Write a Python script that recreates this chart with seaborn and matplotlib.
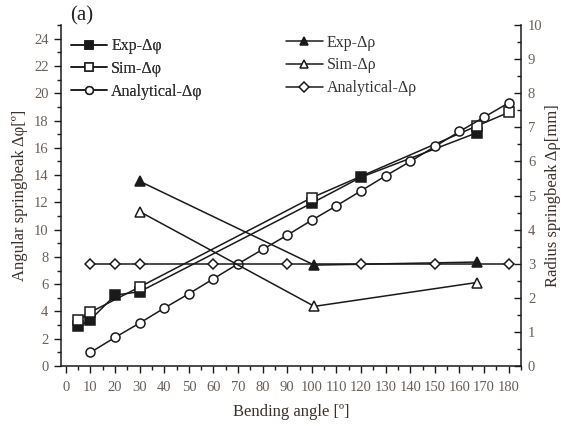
import numpy as np
import pandas as pd
import matplotlib
matplotlib.use("Agg")
import matplotlib.pyplot as plt
from matplotlib.ticker import MultipleLocator
import seaborn as sns

# ---- data ----
exp_phi_x = [5, 10, 20, 30, 100, 120, 167]
exp_phi_y = [2.9, 3.4, 5.2, 5.45, 11.95, 13.85, 17.1]
sim_phi_x = [5, 10, 30, 100, 167, 180]
sim_phi_y = [3.35, 3.95, 5.8, 12.35, 17.6, 18.6]
ana_phi_x = [10, 20, 30, 40, 50, 60, 70, 80, 90, 100, 110, 120, 130, 140, 150, 160, 170, 180]
ana_phi_y = [1.0, 2.1, 3.15, 4.25, 5.3, 6.4, 7.5, 8.55, 9.6, 10.7, 11.75, 12.85, 13.95, 15.0, 16.1, 17.2, 18.25, 19.3]
exp_rho_x = [30, 101, 167]
exp_rho_y = [5.42, 2.96, 3.05]
sim_rho_x = [30, 101, 167]
sim_rho_y = [4.53, 1.75, 2.45]
ana_rho_x = [10, 20, 30, 60, 90, 120, 150, 180]
ana_rho_y = [3.0, 3.0, 3.0, 3.0, 3.0, 3.0, 3.0, 3.0]

x_ticks = list(range(0, 181, 10))
left_ticks = list(range(0, 25, 2))
right_ticks = list(range(0, 11, 1))

sns.set_theme(style="ticks")
plt.rcParams['font.family'] = ['Liberation Serif', 'DejaVu Serif']
plt.rcParams['mathtext.fontset'] = 'stix'

tick_col = '#6a5f58'
lab_col = '#3b302a'
lc = '#1a1a1a'

fig = plt.figure(figsize=(5.62, 4.26), dpi=100)
ax = fig.add_axes([0.1085, 0.1408, 0.8185, 0.8002])
ax2 = ax.twinx()

common = dict(color=lc, linewidth=1.1, markersize=6.5, markeredgewidth=1.1,
              markeredgecolor=lc, legend=False)

def draw(a, xs, ys, marker, face, label):
    df = pd.DataFrame({'x': xs, 'y': ys})
    sns.lineplot(data=df, x='x', y='y', ax=a, marker=marker,
                 markerfacecolor=face, label=label, sort=False, **common)

draw(ax, exp_phi_x, exp_phi_y, 's', lc, 'Exp-Δφ')
draw(ax, sim_phi_x, sim_phi_y, 's', 'white', 'Sim-Δφ')
draw(ax, ana_phi_x, ana_phi_y, 'o', 'white', 'Analytical-Δφ')
draw(ax2, exp_rho_x, exp_rho_y, '^', lc, 'Exp-Δρ')
draw(ax2, sim_rho_x, sim_rho_y, '^', 'white', 'Sim-Δρ')
draw(ax2, ana_rho_x, ana_rho_y, 'D', 'white', 'Analytical-Δρ')
for ln in ax2.lines[-1:]:
    ln.set_markersize(5.5)

ax.set_xlim(-2, 185)
ax.set_ylim(0, 25)
ax2.set_ylim(0, 10)

ax.set_xticks(x_ticks)
ax.set_xticklabels([str(t) for t in x_ticks])
ax.xaxis.set_minor_locator(MultipleLocator(5))
ax.set_yticks(left_ticks)
ax.set_yticklabels([str(t) for t in left_ticks])
ax.yaxis.set_minor_locator(MultipleLocator(1))
ax2.set_yticks(right_ticks)
ax2.set_yticklabels([str(t) for t in right_ticks])
ax2.yaxis.set_minor_locator(MultipleLocator(0.5))

for a in (ax, ax2):
    a.spines['top'].set_visible(False)
    for s in a.spines.values():
        s.set_color(lc)
        s.set_linewidth(1.1)
ax.spines['right'].set_visible(False)
ax2.spines['left'].set_visible(False)
ax2.spines['bottom'].set_visible(False)

ax.tick_params(axis='both', which='major', direction='out', length=5, width=1.0,
               color=lc, labelsize=10.5, labelcolor=tick_col, pad=4)
ax.tick_params(axis='both', which='minor', direction='out', length=3, width=1.0, color=lc)
ax.tick_params(axis='x', pad=6)
ax2.tick_params(axis='y', which='major', direction='in', length=5, width=1.0,
                color=lc, labelsize=10.5, labelcolor=tick_col, pad=5)
ax2.tick_params(axis='y', which='minor', direction='in', length=3, width=1.0, color=lc)

ax.set_xlabel('Bending angle [º]', fontsize=12, color=lab_col, labelpad=7)
ax.set_ylabel('Angular springbeak Δφ[º]', fontsize=12, color=lab_col, labelpad=4)
ax2.set_ylabel('Radius springbeak Δρ[mm]', fontsize=12, color=lab_col, labelpad=2)

fig.text(0.125, 0.962, '(a)', fontsize=15, color='#222222', ha='left', va='center')

h1, l1 = ax.get_legend_handles_labels()
h2, l2 = ax2.get_legend_handles_labels()
leg1 = ax.legend(h1, l1, loc='upper left', bbox_to_anchor=(0.0, 0.99), frameon=False,
                 fontsize=11.5, handlelength=2.3, handletextpad=0.25, labelspacing=0.42,
                 borderaxespad=0.2, labelcolor='#333333', markerscale=0.85)
ax.add_artist(leg1)
leg2 = ax2.legend(h2, l2, loc='upper left', bbox_to_anchor=(0.468, 1.0), frameon=False,
                  fontsize=11.5, handlelength=2.3, handletextpad=0.25, labelspacing=0.42,
                  borderaxespad=0.2, labelcolor='#333333', markerscale=0.85)

fig.savefig('out.png', dpi=100)
